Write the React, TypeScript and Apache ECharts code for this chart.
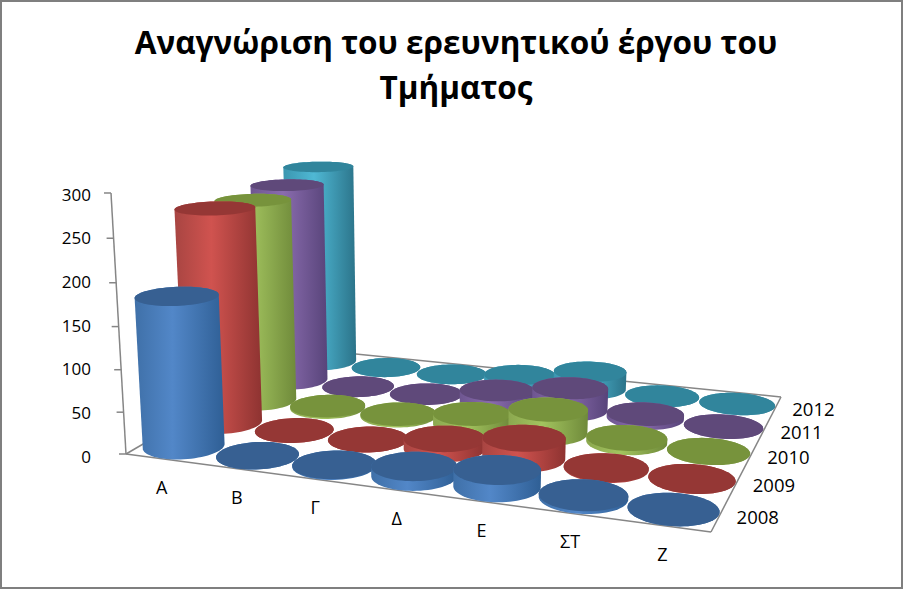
import React, { useEffect, useRef } from "react";
import * as echarts from "echarts";

const titleText = "Αναγνώριση του ερευνητικού έργου του\nΤμήματος";
const categories = ["Α", "Β", "Γ", "Δ", "Ε", "ΣΤ", "Ζ"];
const years = ["2008", "2009", "2010", "2011", "2012"];
const values2008 = [178, 0, 1, 11, 19, 3, 0];
const values2009 = [262, 0, 0, 12, 24, 1, 0];
const values2010 = [256, 2, 2, 13, 29, 5, 0];
const values2011 = [260, 0, 0, 15, 28, 5, 0];
const values2012 = [270, 0, 0, 9, 23, 0, 0];
const rows = [values2008, values2009, values2010, values2011, values2012];
const capColors = ["#376092", "#953735", "#77933c", "#5f497a", "#31859c"];
const bodyStops = [
  ["#3f70a8", "#5287c8", "#2f5f95"],
  ["#a84542", "#d0534f", "#8e3331"],
  ["#8ba84f", "#a3c45f", "#6f8a3a"],
  ["#6e5690", "#8a6cae", "#58447a"],
  ["#3b96b0", "#4fb8d4", "#2b7389"],
];

const FONT = '"Open Sans", "Noto Sans", sans-serif';
const GRID = { left: 126, top: 194, width: 585, height: 262 };

// Projective camera: floor corners and the vanishing point of the vertical direction
const P00 = [126, 454], P10 = [711, 532], P11 = [781, 397], P01 = [306, 349];
const VP = [436, 5845];
const Q = -0.04618;
const den = (P10[0] - P11[0]) * (P01[1] - P11[1]) - (P01[0] - P11[0]) * (P10[1] - P11[1]);
const sx = P00[0] - P10[0] + P11[0] - P01[0];
const sy = P00[1] - P10[1] + P11[1] - P01[1];
const G = (sx * (P01[1] - P11[1]) - (P01[0] - P11[0]) * sy) / den;
const H = ((P10[0] - P11[0]) * sy - sx * (P10[1] - P11[1])) / den;
const A = P10[0] - P00[0] + G * P10[0];
const B = P01[0] - P00[0] + H * P01[0];
const D = P10[1] - P00[1] + G * P10[1];
const E = P01[1] - P00[1] + H * P01[1];

function project(u: number, v: number, t: number): number[] {
  const w = G * u + H * v + 1 + Q * t;
  return [
    (A * u + B * v + P00[0] + VP[0] * Q * t) / w,
    (D * u + E * v + P00[1] + VP[1] * Q * t) / w,
  ];
}

function hull(pts: number[][]): number[][] {
  const s = pts.slice().sort((a, b) => a[0] - b[0] || a[1] - b[1]);
  const cross = (o: number[], a: number[], b: number[]) =>
    (a[0] - o[0]) * (b[1] - o[1]) - (a[1] - o[1]) * (b[0] - o[0]);
  const lo: number[][] = [];
  for (const p of s) {
    while (lo.length >= 2 && cross(lo[lo.length - 2], lo[lo.length - 1], p) <= 0) lo.pop();
    lo.push(p);
  }
  const up: number[][] = [];
  for (const p of s.slice().reverse()) {
    while (up.length >= 2 && cross(up[up.length - 2], up[up.length - 1], p) <= 0) up.pop();
    up.push(p);
  }
  return lo.slice(0, -1).concat(up.slice(0, -1));
}

function circle(u: number, v: number, t: number): number[][] {
  const ru = (0.49 * 1) / categories.length;
  const rv = (0.49 * 1) / years.length;
  const out: number[][] = [];
  for (let k = 0; k < 72; k++) {
    const a = (k / 72) * Math.PI * 2;
    out.push(project(u + ru * Math.cos(a), v + rv * Math.sin(a), t));
  }
  return out;
}

const toU = (x: number) => (x - GRID.left) / GRID.width;
const toT = (y: number) => (GRID.top + GRID.height - y) / GRID.height;

function frameRender(_p: any, api: any) {
  const line = "#868686";
  const seg = (a: number[], b: number[]) => ({
    type: "line",
    shape: { x1: a[0], y1: a[1], x2: b[0], y2: b[1] },
    style: { stroke: line, lineWidth: 1.5 },
  });
  const children: any[] = [
    seg(project(0, 0, 0), project(1, 0, 0)),
    seg(project(1, 0, 0), project(1, 1, 0)),
    seg(project(1, 1, 0), project(0, 1, 0)),
    seg(project(0, 1, 0), project(0, 0, 0)),
    seg(project(0, 0, 0), project(0, 0, 1)),
  ];
  for (let val = 0; val <= 300; val += 50) {
    const t = toT(api.coord([0, val])[1]);
    const p = project(0, 0, t);
    children.push(seg([p[0] - 7, p[1]], p));
  }
  categories.forEach((c, i) => {
    const p = project(toU(api.coord([i, 0])[0]), 0, 0);
    children.push({
      type: "text",
      style: { text: c, x: p[0] - 1, y: p[1] + 28, align: "center", verticalAlign: "middle", fill: "#000", font: `18px ${FONT}` },
    });
  });
  years.forEach((yr, j) => {
    const p = project(1, (j + 0.5) / years.length, 0);
    children.push({
      type: "text",
      style: { text: yr, x: p[0] + 38, y: p[1] + 1, align: "center", verticalAlign: "middle", fill: "#000", font: `18.5px ${FONT}` },
    });
  });
  return { type: "group", children };
}

function cylinderRender(j: number) {
  return (_p: any, api: any) => {
    const base = api.coord([api.value(0), 0]);
    const top = api.coord([api.value(0), api.value(1)]);
    const u = toU(base[0]);
    const v = (j + 0.5) / years.length;
    const t = toT(top[1]);
    const lower = circle(u, v, 0);
    const upper = circle(u, v, t);
    const [a, b, c] = bodyStops[j];
    return {
      type: "group",
      children: [
        {
          type: "polygon",
          shape: { points: hull(lower.concat(upper)) },
          style: {
            fill: new echarts.graphic.LinearGradient(0, 0, 1, 0, [
              { offset: 0, color: a },
              { offset: 0.42, color: b },
              { offset: 1, color: c },
            ]),
          },
        },
        { type: "polygon", shape: { points: upper }, style: { fill: capColors[j] } },
      ],
    };
  };
}

export default function App() {
  const ref = useRef<HTMLDivElement>(null);
  useEffect(() => {
    document.body.style.margin = "0";
    document.body.style.overflow = "hidden";
    const chart = echarts.init(ref.current!, null, { renderer: "svg" });
    const cylinders = years
      .map((yr, j) => ({
        type: "custom" as const,
        name: yr,
        renderItem: cylinderRender(j),
        clip: false,
        silent: true,
        encode: { x: 0, y: 1 },
        data: rows[j].map((val, i) => [i, val]),
      }))
      .reverse();
    chart.setOption({
      animation: false,
      backgroundColor: "#fff",
      title: {
        text: titleText,
        left: 451,
        top: 14,
        textAlign: "center",
        textStyle: { fontFamily: FONT, fontSize: 31.5, fontWeight: 700, color: "#000", lineHeight: 45 },
      },
      grid: { ...GRID },
      xAxis: { type: "category", data: categories, show: false },
      yAxis: {
        type: "value",
        min: 0,
        max: 300,
        interval: 50,
        axisLine: { show: false },
        axisTick: { show: false },
        splitLine: { show: false },
        axisLabel: { margin: 35, color: "#000", fontFamily: FONT, fontSize: 17 },
      },
      graphic: [
        {
          type: "rect",
          shape: { x: 1, y: 1, width: 901, height: 587 },
          style: { fill: "none", stroke: "#7f7f7f", lineWidth: 2 },
          silent: true,
        },
      ],
      series: [
        {
          type: "custom",
          name: "frame",
          renderItem: frameRender,
          clip: false,
          silent: true,
          encode: { x: 0, y: 1 },
          data: [[0, 0]],
        },
        ...cylinders,
      ],
    });
    return () => chart.dispose();
  }, []);
  return <div ref={ref} style={{ width: 903, height: 589, position: "absolute", left: 0, top: 0 }} />;
}
